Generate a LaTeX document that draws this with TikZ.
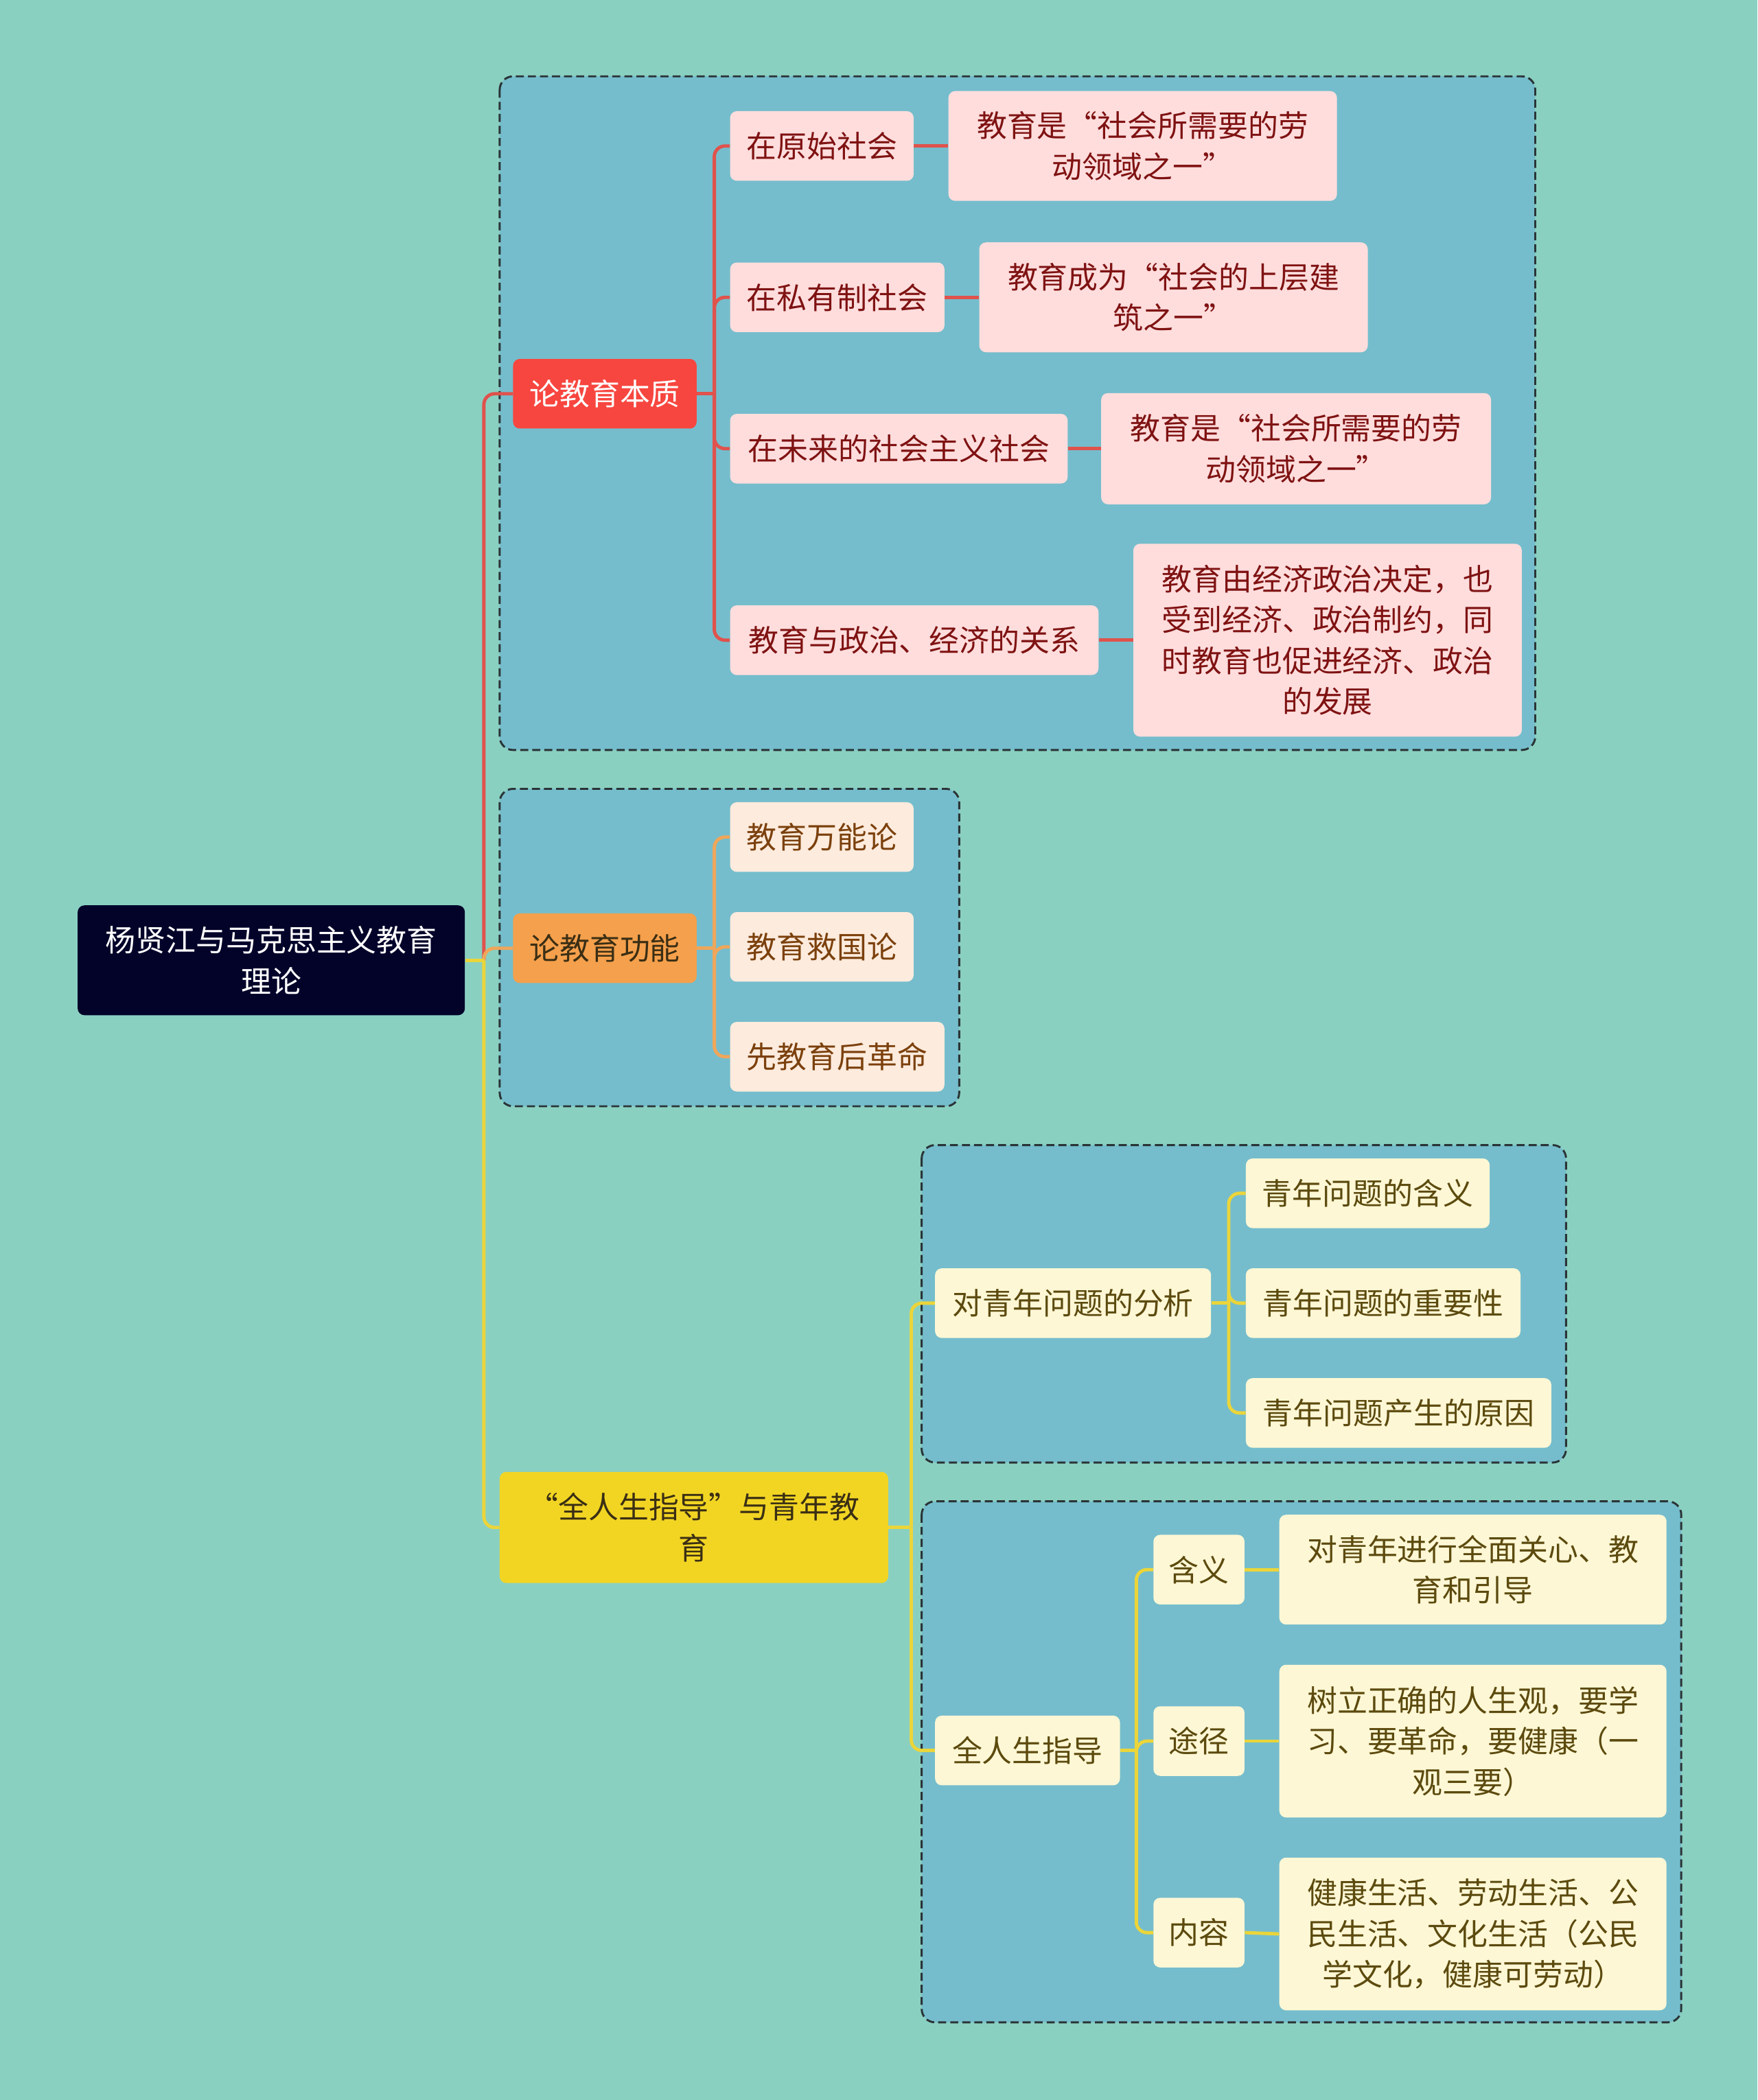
\documentclass[tikz,border=0pt]{standalone}
\usepackage{fontspec}
\newfontfamily\cjk{Noto Sans CJK SC}
\definecolor{bgc}{HTML}{8AD0C1}
\definecolor{grpfill}{HTML}{75BDCC}
\definecolor{grpline}{HTML}{2A3436}
\definecolor{rootfill}{HTML}{03032A}
\definecolor{redfill}{HTML}{F7463F}
\definecolor{orangefill}{HTML}{F5A04C}
\definecolor{yellowfill}{HTML}{F2D523}
\definecolor{pinkfill}{HTML}{FFDDDD}
\definecolor{creamfill}{HTML}{FDEBDD}
\definecolor{lightyfill}{HTML}{FDF7D5}
\definecolor{redline}{HTML}{E0524C}
\definecolor{orangeline}{HTML}{F0A65A}
\definecolor{yellowline}{HTML}{EBD53A}
\definecolor{redtext}{HTML}{7F1212}
\definecolor{browntext}{HTML}{7B400C}
\definecolor{olivetext}{HTML}{5C4A0E}
\definecolor{darktext}{HTML}{3A2E14}
\tikzset{
  base/.style={rounded corners=5pt, inner sep=0pt, align=center, font=\cjk\fontsize{22.5}{30.5}\selectfont},
  rootn/.style={base, fill=rootfill, text=white},
  rednode/.style={base, fill=redfill, text=white},
  orangenode/.style={base, fill=orangefill, text=darktext},
  yellownode/.style={base, fill=yellowfill, text=darktext},
  pinknode/.style={base, fill=pinkfill, text=redtext},
  creamnode/.style={base, fill=creamfill, text=browntext},
  lightnode/.style={base, fill=lightyfill, text=olivetext},
  grp/.style={draw=grpline, fill=grpfill, line width=1.5pt, dash pattern=on 6pt off 3pt, rounded corners=10pt},
  rl/.style={draw=redline, line width=2.5pt},
  ol/.style={draw=orangeline, line width=2.5pt},
  yl/.style={draw=yellowline, line width=2.5pt},
}
\newcommand\mybranch[4]{%
  \draw[#1] (#2.east) -- ([xshift=#4]#2.east);
  \draw[#1, rounded corners=8pt] ([xshift=#4]#2.east) |- (#3.west);}
\begin{document}
\begin{tikzpicture}[x=1pt,y=-1pt]
\fill[bgc] (0,0) rectangle (1312,1568);
\useasboundingbox (0,0) rectangle (1312,1568);

% group boxes
\draw[grp] (373,57) rectangle (1146,560);
\draw[grp] (373,589) rectangle (716,826);
\draw[grp] (688,855) rectangle (1169,1092);
\draw[grp] (688,1121) rectangle (1255,1510);

% root
\node[rootn, minimum width=289pt, minimum height=82pt] (root) at (202.5,717) {杨贤江与马克思主义教育\\理论};

% level 1
\node[rednode, minimum width=137pt, minimum height=52pt] (n1) at (451.5,294) {论教育本质};
\node[orangenode, minimum width=137pt, minimum height=52pt] (n2) at (451.5,708) {论教育功能};
\node[yellownode, minimum width=290pt, minimum height=83pt] (n3) at (518,1140.5) {“全人生指导”与青年教\\育};

% box 1
\node[pinknode, minimum width=137pt, minimum height=52pt] (a1) at (613.5,109) {在原始社会};
\node[pinknode, minimum width=160pt, minimum height=52pt] (a2) at (625,222) {在私有制社会};
\node[pinknode, minimum width=252pt, minimum height=52pt] (a3) at (671,335) {在未来的社会主义社会};
\node[pinknode, minimum width=275pt, minimum height=52pt] (a4) at (682.5,478) {教育与政治、经济的关系};
\node[pinknode, minimum width=290pt, minimum height=82pt] (b1) at (853,109) {教育是“社会所需要的劳\\动领域之一”};
\node[pinknode, minimum width=290pt, minimum height=82pt] (b2) at (876,222) {教育成为“社会的上层建\\筑之一”};
\node[pinknode, minimum width=291pt, minimum height=83pt] (b3) at (967.5,335) {教育是“社会所需要的劳\\动领域之一”};
\node[pinknode, minimum width=290pt, minimum height=144pt] (b4) at (991,478) {教育由经济政治决定，也\\受到经济、政治制约，同\\时教育也促进经济、政治\\的发展};

% box 2
\node[creamnode, minimum width=137pt, minimum height=52pt] (c1) at (613.5,625) {教育万能论};
\node[creamnode, minimum width=137pt, minimum height=52pt] (c2) at (613.5,707) {教育救国论};
\node[creamnode, minimum width=160pt, minimum height=52pt] (c3) at (625,789) {先教育后革命};

% box 3
\node[lightnode, minimum width=206pt, minimum height=52pt] (d0) at (801,973) {对青年问题的分析};
\node[lightnode, minimum width=182pt, minimum height=52pt] (d1) at (1021,891) {青年问题的含义};
\node[lightnode, minimum width=205pt, minimum height=52pt] (d2) at (1032.5,973) {青年问题的重要性};
\node[lightnode, minimum width=228pt, minimum height=52pt] (d3) at (1044,1055) {青年问题产生的原因};

% box 4
\node[lightnode, minimum width=138pt, minimum height=52pt] (e0) at (767,1307) {全人生指导};
\node[lightnode, minimum width=68pt, minimum height=52pt] (e1) at (895,1172) {含义};
\node[lightnode, minimum width=68pt, minimum height=52pt] (e2) at (895,1300) {途径};
\node[lightnode, minimum width=68pt, minimum height=52pt] (e3) at (895,1443) {内容};
\node[lightnode, minimum width=289pt, minimum height=82pt] (f1) at (1099.5,1172) {对青年进行全面关心、教\\育和引导};
\node[lightnode, minimum width=289pt, minimum height=114pt] (f2) at (1099.5,1300) {树立正确的人生观，要学\\习、要革命，要健康（一\\观三要）};
\node[lightnode, minimum width=289pt, minimum height=114pt] (f3) at (1099.5,1444) {健康生活、劳动生活、公\\民生活、文化生活（公民\\学文化，健康可劳动）};

% connectors
\mybranch{rl}{root}{n1}{14pt}
\mybranch{ol}{root}{n2}{14pt}
\mybranch{yl}{root}{n3}{14pt}

\mybranch{rl}{n1}{a1}{13pt}
\mybranch{rl}{n1}{a2}{13pt}
\mybranch{rl}{n1}{a3}{13pt}
\mybranch{rl}{n1}{a4}{13pt}
\draw[rl] (a1.east) -- (b1.west);
\draw[rl] (a2.east) -- (b2.west);
\draw[rl] (a3.east) -- (b3.west);
\draw[rl] (a4.east) -- (b4.west);

\mybranch{ol}{n2}{c1}{13pt}
\mybranch{ol}{n2}{c2}{13pt}
\mybranch{ol}{n2}{c3}{13pt}

\mybranch{yl}{n3}{d0}{17pt}
\mybranch{yl}{n3}{e0}{17pt}

\mybranch{yl}{d0}{d1}{13pt}
\mybranch{yl}{d0}{d2}{13pt}
\mybranch{yl}{d0}{d3}{13pt}

\mybranch{yl}{e0}{e1}{12pt}
\mybranch{yl}{e0}{e2}{12pt}
\mybranch{yl}{e0}{e3}{12pt}
\draw[yl] (e1.east) -- (f1.west);
\draw[yl] (e2.east) -- (f2.west);
\draw[yl] (e3.east) -- (f3.west);
\end{tikzpicture}
\end{document}
